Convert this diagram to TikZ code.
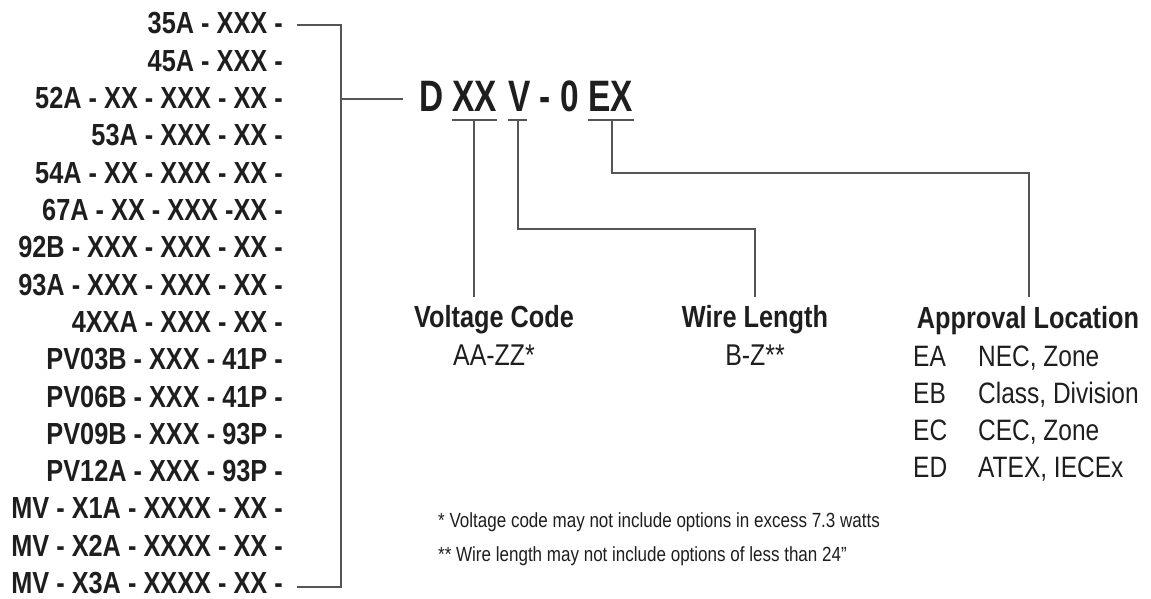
\documentclass[tikz,border=0pt]{standalone}
\usepackage{fontspec}
\setmainfont{Liberation Sans}[FakeStretch=0.83]
\newfontfamily\codefont{Liberation Sans}[FakeStretch=0.76]
\definecolor{ink}{HTML}{1E1E1E}
\definecolor{wire}{HTML}{555555}
\begin{document}
\begin{tikzpicture}[x=1pt,y=-1pt,
  conn/.style={draw=wire, line width=1.7pt},
  rowtxt/.style={anchor=base east, inner sep=0pt, text=ink, font=\fontsize{30.5}{36}\selectfont\bfseries},
  codetxt/.style={anchor=base west, inner sep=0pt, text=ink, font=\codefont\fontsize{44}{50}\selectfont\bfseries},
  headtxt/.style={anchor=base, inner sep=0pt, text=ink, font=\fontsize{30.5}{36}\selectfont\bfseries},
  valtxt/.style={anchor=base, inner sep=0pt, text=ink, font=\fontsize{30}{36}\selectfont},
  tabtxt/.style={anchor=base west, inner sep=0pt, text=ink, font=\fontsize{29.5}{36}\selectfont},
  notetxt/.style={anchor=base west, inner sep=0pt, text=ink, font=\fontsize{20.5}{24}\selectfont}]
\useasboundingbox (0,0) rectangle (1151,599);
% left list
\foreach \t [count=\i] in {35A - XXX -,45A - XXX -,52A - XX - XXX - XX -,53A - XXX - XX -,54A - XX - XXX - XX -,67A - XX - XXX -XX -,92B - XXX - XXX - XX -,93A - XXX - XXX - XX -,4XXA - XXX - XX -,PV03B - XXX - 41P -,PV06B - XXX - 41P -,PV09B - XXX - 93P -,PV12A - XXX - 93P -,MV - X1A - XXXX - XX -,MV - X2A - XXXX - XX -,MV - X3A - XXXX - XX -}
  \node[rowtxt] (r\i) at (283,{34+37.3*(\i-1)}) {\t};
% bracket
\coordinate (bt) at (297,25);
\coordinate (btr) at (341,25);
\coordinate (bbr) at (341,587);
\coordinate (bb) at (297,587);
\coordinate (bm) at (341,99);
\coordinate (bme) at (403,99);
\draw[conn] (bt) -- (btr) -- (bbr) -- (bb);
\draw[conn] (bm) -- (bme);
% code
\node[codetxt] (cD) at (419,112) {D};
\node[codetxt] (cXX) at (452,112) {XX};
\node[codetxt] (cV) at (508,112) {V};
\node[codetxt] (cdash) at (539,112) {-};
\node[codetxt] (c0) at (560,112) {0};
\node[codetxt] (cEX) at (588,112) {EX};
% underlines
\coordinate (u1a) at (452,120); \coordinate (u1b) at (497,120);
\coordinate (u2a) at (508,120); \coordinate (u2b) at (527,120);
\coordinate (u3a) at (588,120); \coordinate (u3b) at (634,120);
\draw[conn] (u1a) -- (u1b);
\draw[conn] (u2a) -- (u2b);
\draw[conn] (u3a) -- (u3b);
% labels
\node[headtxt] (volt) at (494,327) {Voltage Code};
\node[valtxt] (voltv) at (494,365) {AA-ZZ*};
\node[headtxt] (wire) at (755,327) {Wire Length};
\node[valtxt] (wirev) at (755,365) {B-Z**};
\node[headtxt] (appr) at (1028,328) {Approval Location};
\foreach \a/\b [count=\k] in {EA/{NEC, Zone},EB/{Class, Division},EC/{CEC, Zone},ED/{ATEX, IECEx}}{
  \node[tabtxt] (ta\k) at (913,{366+37.3*(\k-1)}) {\a};
  \node[tabtxt] (tb\k) at (978,{366+37.3*(\k-1)}) {\b};
}
% leaders
\coordinate (l1a) at (474,120); \coordinate (l1b) at (474,297);
\coordinate (l2a) at (518,120); \coordinate (l2b) at (518,229); \coordinate (l2c) at (755,229); \coordinate (l2d) at (755,297);
\coordinate (l3a) at (612,120); \coordinate (l3b) at (612,173); \coordinate (l3c) at (1029,173); \coordinate (l3d) at (1029,297);
\draw[conn] (l1a) -- (l1b);
\draw[conn] (l2a) -- (l2b) -- (l2c) -- (l2d);
\draw[conn] (l3a) -- (l3b) -- (l3c) -- (l3d);
% notes
\node[notetxt] (n1) at (438,527) {* Voltage code may not include options in excess 7.3 watts};
\node[notetxt] (n2) at (438,561) {** Wire length may not include options of less than 24”};
\end{tikzpicture}
\end{document}
